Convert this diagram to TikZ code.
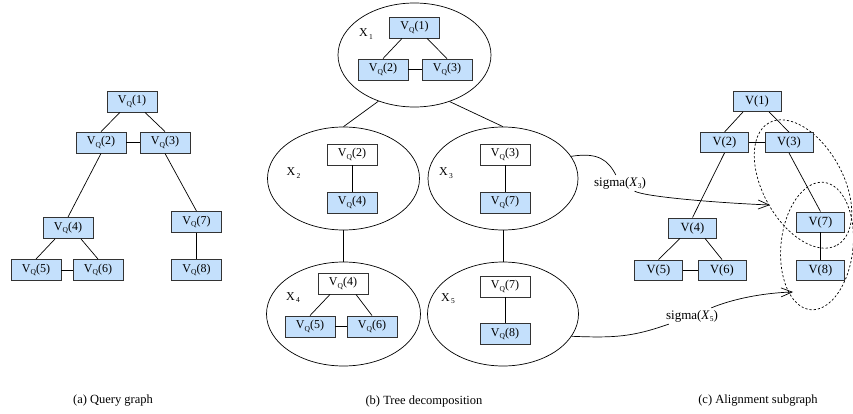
\documentclass[tikz,border=0pt]{standalone}
\usepackage{fontspec}
\setmainfont{Liberation Serif}
\usetikzlibrary{shapes.geometric,arrows.meta,calc}
\definecolor{vblue}{RGB}{196,224,252}
% lowered small index, as in V_Q and X_1
\newcommand\lowsub[1]{\raisebox{-0.45ex}{\fontsize{7.5}{8}\selectfont #1}}
\newcommand\VQ[1]{V\lowsub{Q}(#1)}
\tikzset{
  vbox/.style={draw=black!80, line width=0.9pt, fill=vblue, minimum width=50, minimum height=21,
    inner sep=0pt, font=\fontsize{12}{13}\selectfont},
  wbox/.style={vbox, fill=white},
  cbox/.style={vbox, minimum width=48, minimum height=20, font=\fontsize{12.5}{13}\selectfont},
  bag/.style={ellipse, draw, line width=0.7pt, inner sep=0pt},
  bagname/.style={font=\fontsize{12}{13}\selectfont, inner sep=0pt},
  link/.style={line width=0.7pt},
  group/.style={ellipse, draw, line width=0.7pt, dash pattern=on 2.2pt off 2pt, inner sep=0pt},
  maparrow/.style={line width=0.7pt, -{Straight Barb[length=11pt, width=9pt, line width=0.7pt]}},
  maplabel/.style={font=\fontsize{13}{14}\selectfont, inner sep=2pt},
  caption/.style={font=\fontsize{12.5}{14}\selectfont, inner sep=0pt}
}
\begin{document}
\begin{tikzpicture}[x=1pt, y=-1pt]
\useasboundingbox (0,0) rectangle (853,414);

% (a) query graph
\node[vbox] (a1) at (132,101.5) {\VQ{1}};
\node[vbox] (a2) at (101,142.5) {\VQ{2}};
\node[vbox] (a3) at (165,142.5) {\VQ{3}};
\node[vbox] (a4) at (68,228) {\VQ{4}};
\node[vbox] (a7) at (196.5,222) {\VQ{7}};
\node[vbox] (a5) at (36,270) {\VQ{5}};
\node[vbox] (a6) at (98,270) {\VQ{6}};
\node[vbox] (a8) at (196.5,270) {\VQ{8}};
\draw[link] ([xshift=-12pt]a1.south) -- (a2.north);
\draw[link] ([xshift=13pt]a1.south) -- (a3.north);
\draw[link] (a2) -- (a3);
\draw[link] (a2.south) -- (a4.north);
\draw[link] (a3.south) -- (a7.north);
\draw[link] ([xshift=-13pt]a4.south) -- (a5.north);
\draw[link] ([xshift=13pt]a4.south) -- (a6.north);
\draw[link] (a5) -- (a6);
\draw[link] (a7) -- (a8);
\node[caption] (capa) at (113,401) {(a) Query graph};

% (b) tree decomposition: bags
\node[bag, minimum width=153, minimum height=104] (x1) at (414.5,55) {};
\node[bag, minimum width=152, minimum height=103] (x2) at (343.5,178.5) {};
\node[bag, minimum width=150, minimum height=103] (x3) at (503,178.5) {};
\node[bag, minimum width=154, minimum height=104] (x4) at (343.5,314) {};
\node[bag, minimum width=151, minimum height=104] (x5) at (503,314) {};
\draw[link] (x1.232) -- (x2.north);
\draw[link] (x1.307) -- (x3.north);
\draw[link] (x2.south) -- (x4.north);
\draw[link] (x3.south) -- (x5.north);

\node[bagname] (n1) at (366,34) {X\hspace{1.5pt}\lowsub{1}};
\node[bagname] (n2) at (293.5,173) {X\hspace{1.5pt}\lowsub{2}};
\node[bagname] (n3) at (446,173) {X\hspace{1.5pt}\lowsub{3}};
\node[bagname] (n4) at (293,297.5) {X\hspace{1.5pt}\lowsub{4}};
\node[bagname] (n5) at (448,298.5) {X\hspace{1.5pt}\lowsub{5}};

% bag X1
\node[vbox] (b1) at (414.5,27.5) {\VQ{1}};
\node[vbox] (b2) at (383,69.5) {\VQ{2}};
\node[vbox] (b3) at (447,69.5) {\VQ{3}};
\draw[link] ([xshift=-12.5pt]b1.south) -- (b2.north);
\draw[link] ([xshift=12.5pt]b1.south) -- (b3.north);
\draw[link] (b2) -- (b3);
% bag X2
\node[wbox] (c2) at (352,154.5) {\VQ{2}};
\node[vbox] (c4) at (352,202.5) {\VQ{4}};
\draw[link] (c2) -- (c4);
% bag X3
\node[wbox] (c3) at (505,154.5) {\VQ{3}};
\node[vbox] (c7) at (505,202.5) {\VQ{7}};
\draw[link] (c3) -- (c7);
% bag X4
\node[wbox] (d4) at (343,283.5) {\VQ{4}};
\node[vbox] (d5) at (310,326.5) {\VQ{5}};
\node[vbox] (d6) at (372,326.5) {\VQ{6}};
\draw[link] ([xshift=-13pt]d4.south) -- (d5.north);
\draw[link] ([xshift=13pt]d4.south) -- (d6.north);
\draw[link] (d5) -- (d6);
% bag X5
\node[wbox] (e7) at (505,286.5) {\VQ{7}};
\node[vbox] (e8) at (505,334) {\VQ{8}};
\draw[link] (e7) -- (e8);
\node[caption] (capb) at (424,401) {(b) Tree decomposition};

% (c) alignment subgraph
\node[group, minimum width=140, minimum height=80, rotate=-61] (g1) at (803,184) {};
\node[group, minimum width=72, minimum height=128, rotate=-6] (g2) at (817,246) {};
\node[cbox] (f1) at (757,101.5) {V(1)};
\node[cbox] (f2) at (724.5,142.5) {V(2)};
\node[cbox] (f3) at (789,142.5) {V(3)};
\node[cbox] (f4) at (692.5,228) {V(4)};
\node[cbox] (f5) at (658.5,270) {V(5)};
\node[cbox] (f6) at (722,270) {V(6)};
\node[cbox] (f7) at (820.5,222) {V(7)};
\node[cbox] (f8) at (820.5,270) {V(8)};
\draw[link] ([xshift=-14pt]f1.south) -- (f2.north);
\draw[link] ([xshift=12pt]f1.south) -- (f3.north);
\draw[link] (f2) -- (f3);
\draw[link] (f2.south) -- (f4.north);
\draw[link] (f3.south) -- (f7.north);
\draw[link] ([xshift=-12.5pt]f4.south) -- (f5.north);
\draw[link] ([xshift=12.5pt]f4.south) -- (f6.north);
\draw[link] (f5) -- (f6);
\draw[link] (f7) -- (f8);
\node[caption] (capc) at (758,401) {(c) Alignment subgraph};

% mappings of bags into the alignment subgraph
\coordinate (t3) at (770,205);
\coordinate (t5) at (793,292);
\node[maplabel] (s3) at (620,183) {sigma(\textit{X}\lowsub{3})};
\node[maplabel] (s5) at (692,316) {sigma(\textit{X}\lowsub{5})};
\draw[link] (x3.18) .. controls (598,152) and (608,160) .. (s3);
\draw[maparrow] (s3) .. controls (645,197) and (720,203) .. (t3);
\draw[link] (x5.342) .. controls (615,338) and (632,337) .. (s5);
\draw[maparrow] (s5) .. controls (730,300) and (760,293) .. (t5);
\end{tikzpicture}
\end{document}
